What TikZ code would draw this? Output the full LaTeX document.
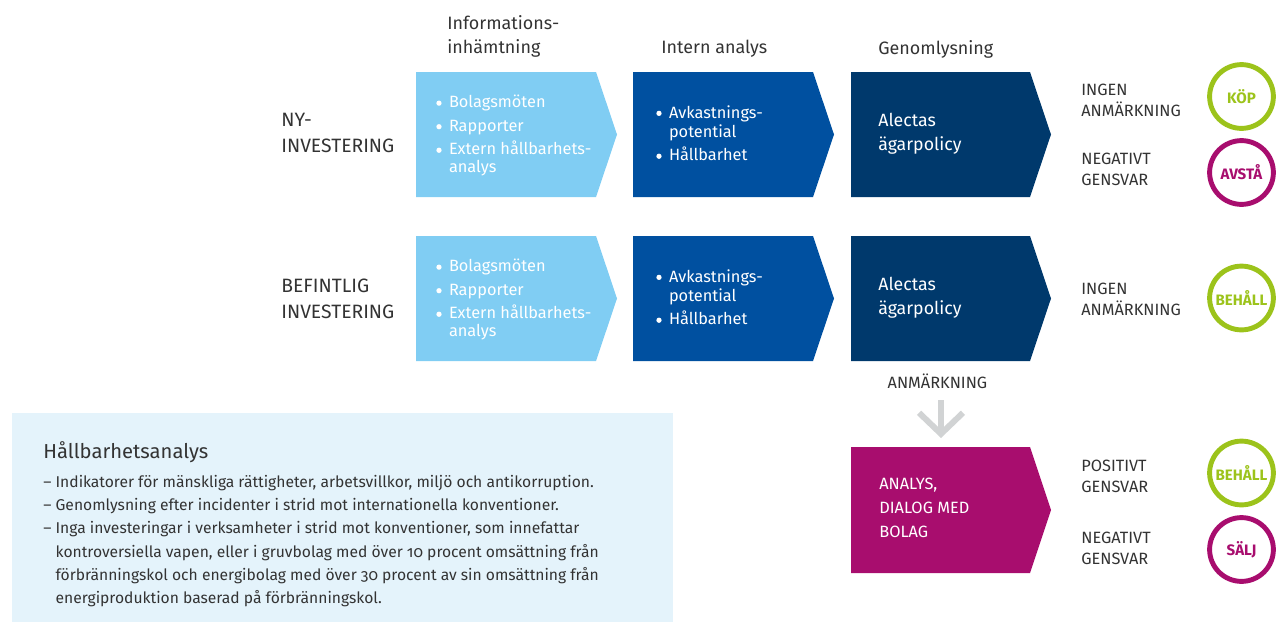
\documentclass[tikz,border=0pt]{standalone}
\usepackage{fontspec}
\setmainfont{Fira Sans}[Numbers=OldStyle]
\usetikzlibrary{arrows.meta}
\definecolor{infoblue}{HTML}{80CDF3}
\definecolor{analysblue}{HTML}{0050A0}
\definecolor{policyblue}{HTML}{00396C}
\definecolor{dialogmagenta}{HTML}{A80D6E}
\definecolor{okgreen}{HTML}{9CC31B}
\definecolor{boxblue}{HTML}{E4F3FB}
\definecolor{pilgray}{HTML}{D1D3D4}
\definecolor{textgray}{HTML}{333333}
% vit punkt framför varje rad i pilarna
\newcommand\punkt{\tikz[baseline=-2.7pt]\fill[white] (0,0) circle (1.5pt);\hspace{4.2pt}}
\begin{document}
\begin{tikzpicture}[x=0.02cm,y=-0.02cm,
  every node/.style={inner sep=0pt,text=textgray},
  rubrik/.style={anchor=north west,align=left,font=\fontsize{10.2}{14}\selectfont},
  radrubrik/.style={anchor=north west,align=left,font=\fontsize{11}{14.5}\selectfont},
  punkter/.style={anchor=north west,align=left,text=white,font=\fontsize{9.3}{10.2}\selectfont},
  policy/.style={anchor=north west,align=left,text=white,font=\fontsize{10.1}{13.3}\selectfont},
  utfall/.style={anchor=north west,align=left,font=\fontsize{9.3}{11.6}\selectfont},
  beslut/.style={circle,draw=#1,line width=2.8pt,minimum size=36.3pt,text=#1,font=\bfseries\fontsize{8.6}{9}\selectfont},
  pil/.style={draw=pilgray,line width=3.4pt,-{Straight Barb[length=12pt,width=25pt]}}]
\useasboundingbox (0,0) rectangle (1276,622);

% kolumnrubriker
\node[rubrik] (h1) at (447,15) {Informations-\\inhämtning};
\node[rubrik] (h2) at (661,40) {Intern analys};
\node[rubrik] (h3) at (878,40) {Genomlysning};

% radrubriker
\node[radrubrik] (ny) at (281,113) {NY-\\INVESTERING};
\node[radrubrik] (bef) at (281,279) {BEFINTLIG\\INVESTERING};

% pilformer per rad
\foreach \y/\r in {0/1,164/2} {
  \fill[infoblue] (416,72+\y) -- ++(180,0) -- ++(21,62.5) -- ++(-21,62.5) -- ++(-180,0) -- cycle;
  \fill[analysblue] (633,72+\y) -- ++(180,0) -- ++(21,62.5) -- ++(-21,62.5) -- ++(-180,0) -- cycle;
  \fill[policyblue] (851,72+\y) -- ++(179,0) -- ++(21,62.5) -- ++(-21,62.5) -- ++(-179,0) -- cycle;
  \node[punkter] (info\r) at (436,95+\y) {\punkt Bolagsmöten\\[3.2pt]\punkt Rapporter\\[3.2pt]\punkt Extern hållbarhets-\\\hphantom{\punkt}analys};
  \node[punkter,font=\fontsize{9.3}{11}\selectfont] (intern\r) at (656,105+\y) {\punkt Avkastnings-\\\hphantom{\punkt}potential\\[2.4pt]\punkt Hållbarhet};
  \node[policy] (alecta\r) at (878,113+\y) {Alectas\\ägarpolicy};
}

% utfall
\node[utfall] (ingen1) at (1081,84) {INGEN\\ANMÄRKNING};
\node[utfall] (neg1) at (1081,153) {NEGATIVT\\GENSVAR};
\node[utfall] (ingen2) at (1081,283) {INGEN\\ANMÄRKNING};
\node[utfall] (pos3) at (1081,460) {POSITIVT\\GENSVAR};
\node[utfall] (neg3) at (1081,532) {NEGATIVT\\GENSVAR};

\node[beslut=okgreen] (kop) at (1241.5,96.5) {KÖP};
\node[beslut=dialogmagenta] (avsta) at (1241.5,172.5) {AVSTÅ};
\node[beslut=okgreen] (behall1) at (1241.5,298) {BEHÅLL};
\node[beslut=okgreen] (behall2) at (1241.5,473) {BEHÅLL};
\node[beslut=dialogmagenta] (salj) at (1241.5,549.5) {SÄLJ};

% anmärkning leder till dialog
\node[font=\fontsize{9.3}{10}\selectfont] (anm) at (937.5,381) {ANMÄRKNING};
\coordinate (pilstart) at (941,400);
\coordinate (pilslut) at (941,438);
\draw[pil] (pilstart) -- (pilslut);

\fill[dialogmagenta] (851,447) -- ++(179,0) -- ++(21,63) -- ++(-21,63) -- ++(-179,0) -- cycle;
\node[anchor=north west,align=left,text=white,font=\fontsize{9.3}{13.6}\selectfont] (dialog) at (879,478) {ANALYS,\\DIALOG MED\\BOLAG};

% faktaruta
\fill[boxblue] (12,413) rectangle (673,622);
\node[anchor=north west,font=\fontsize{11.5}{14}\selectfont] (titel) at (43,441) {Hållbarhetsanalys};
\node[anchor=north west,align=left,font=\fontsize{8.9}{13.2}\selectfont] (lista) at (43,475)
  {–\ Indikatorer för mänskliga rättigheter, arbetsvillkor, miljö och antikorruption.\\
   –\ Genomlysning efter incidenter i strid mot internationella konventioner.\\
   –\ Inga investeringar i verksamheter i strid mot konventioner, som innefattar\\
   \hphantom{–\ }kontroversiella vapen, eller i gruvbolag med över 10 procent omsättning från\\
   \hphantom{–\ }förbränningskol och energibolag med över 30 procent av sin omsättning från\\
   \hphantom{–\ }energiproduktion baserad på förbränningskol.};
\end{tikzpicture}
\end{document}
